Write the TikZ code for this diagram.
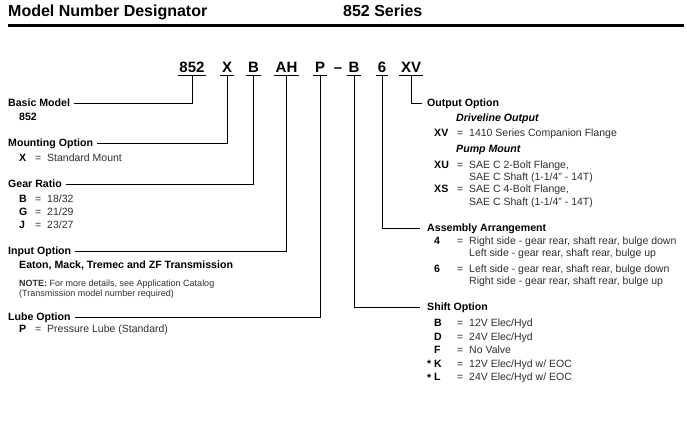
\documentclass[tikz,border=0pt]{standalone}
\usepackage{fontspec}
\setmainfont{Liberation Sans}
\definecolor{bodygray}{gray}{0.18}

\tikzset{
  txt/.style={inner sep=0pt, anchor=west, text height=7.5pt, text depth=0pt,
    font=\fontsize{10.5}{12}\selectfont, text=bodygray},
  head/.style={txt, font=\fontsize{10.6}{12}\selectfont\bfseries, text=black},
  sub/.style={head, font=\fontsize{10.6}{12}\selectfont\bfseries\itshape},
  note/.style={txt, text height=6.5pt, font=\fontsize{9}{10}\selectfont},
  title/.style={inner sep=0pt, anchor=west, text height=11.5pt, text depth=0pt,
    font=\fontsize{16}{18}\selectfont\bfseries},
  code/.style={anchor=base, inner xsep=1.5pt, inner ysep=3pt, text depth=0pt,
    font=\fontsize{15}{16}\selectfont\bfseries},
  conn/.style={line width=0.9pt},
}

\begin{document}
\begin{tikzpicture}[x=1pt, y=-1pt]
\useasboundingbox (0,0) rectangle (687,444);

% heading
\node[title] (ttl) at (8,11) {Model Number Designator};
\node[title] (series) at (343,11) {852 Series};
\draw[line width=2.5pt] (8,25.3) -- (684,25.3);

% model code
\foreach \nm/\lbl/\x in {c852/852/192, cX/X/227, cB/B/253.5, cAH/AH/286.5,
  cP/P/320, dash/--/338, cSh/B/354, cAs/6/382, cXV/XV/411}
  \node[code] (\nm) at (\x,72) {\lbl};
\foreach \nm in {c852,cX,cB,cAH,cP,cSh,cAs,cXV}
  \draw[line width=1.1pt] (\nm.south west) -- (\nm.south east);

% left side
\node[head] (basic) at (8,103) {Basic Model};
\node[head] (k852) at (19,117) {852};

\node[head] (mount) at (8,143) {Mounting Option};
\node[head] (kX) at (19,158) {X};
\node[txt] (eX) at (35,158) {=};
\node[txt] (vX) at (47,158) {Standard Mount};

\node[head] (gear) at (8,184) {Gear Ratio};
\foreach \k/\v/\y in {B/{18/32}/199, G/{21/29}/212, J/{23/27}/225} {
  \node[head] (g\k) at (19,\y) {\k};
  \node[txt] (ge\k) at (35,\y) {=};
  \node[txt] (gv\k) at (47,\y) {\v};
}

\node[head] (input) at (8,251) {Input Option};
\node[head] (eaton) at (19,265) {Eaton, Mack, Tremec and ZF Transmission};
\node[note] (note1) at (19,283) {\textbf{NOTE:} For more details, see Application Catalog};
\node[note] (note2) at (19,293) {(Transmission model number required)};

\node[head] (lube) at (8,317) {Lube Option};
\node[head] (kP) at (19,329) {P};
\node[txt] (eP) at (35,329) {=};
\node[txt] (vP) at (47,329) {Pressure Lube (Standard)};

% right side
\node[head] (output) at (427,103) {Output Option};
\node[sub] (drive) at (456,118) {Driveline Output};
\node[head] (kXV) at (434,133) {XV};
\node[txt] (eXV) at (457,133) {=};
\node[txt] (vXV) at (469,133) {1410 Series Companion Flange};
\node[sub] (pump) at (456,149) {Pump Mount};
\node[head] (kXU) at (434,165) {XU};
\node[txt] (eXU) at (457,165) {=};
\node[txt] (vXU) at (469,165) {SAE C 2-Bolt Flange,};
\node[txt] (wXU) at (469,177) {SAE C Shaft (1-1/4" - 14T)};
\node[head] (kXS) at (434,189) {XS};
\node[txt] (eXS) at (457,189) {=};
\node[txt] (vXS) at (469,189) {SAE C 4-Bolt Flange,};
\node[txt] (wXS) at (469,202) {SAE C Shaft (1-1/4" - 14T)};

\node[head] (assy) at (427,228) {Assembly Arrangement};
\node[head] (k4) at (434,241) {4};
\node[txt] (e4) at (457,241) {=};
\node[txt] (v4) at (469,241) {Right side - gear rear, shaft rear, bulge down};
\node[txt] (w4) at (469,252.5) {Left side - gear rear, shaft rear, bulge up};
\node[head] (k6) at (434,269) {6};
\node[txt] (e6) at (457,269) {=};
\node[txt] (v6) at (469,269) {Left side - gear rear, shaft rear, bulge down};
\node[txt] (w6) at (469,280.5) {Right side - gear rear, shaft rear, bulge up};

\node[head] (shift) at (427,307) {Shift Option};
\foreach \k/\v/\y in {B/{12V Elec/Hyd}/323, D/{24V Elec/Hyd}/336.5, F/{No Valve}/350,
  K/{12V Elec/Hyd w/ EOC}/363.5, L/{24V Elec/Hyd w/ EOC}/377} {
  \node[head] (s\k) at (434,\y) {\k};
  \node[txt] (se\k) at (457,\y) {=};
  \node[txt] (sv\k) at (469,\y) {\v};
}
\node[head] (astK) at (427,363.8) {*};
\node[head] (astL) at (427,377.3) {*};

% connectors
\draw[conn] (c852.south) |- ([xshift=4pt]basic.east);
\draw[conn] (cX.south) |- ([xshift=4pt]mount.east);
\draw[conn] (cB.south) |- ([xshift=4pt]gear.east);
\draw[conn] (cAH.south) |- ([xshift=4pt]input.east);
\draw[conn] (cP.south) |- ([xshift=4pt]lube.east);
\draw[conn] (cXV.south) |- ([xshift=-5pt]output.west);
\draw[conn] (cAs.south) |- ([xshift=-7pt]assy.west);
\draw[conn] (cSh.south) |- ([xshift=-7pt]shift.west);
\end{tikzpicture}
\end{document}
